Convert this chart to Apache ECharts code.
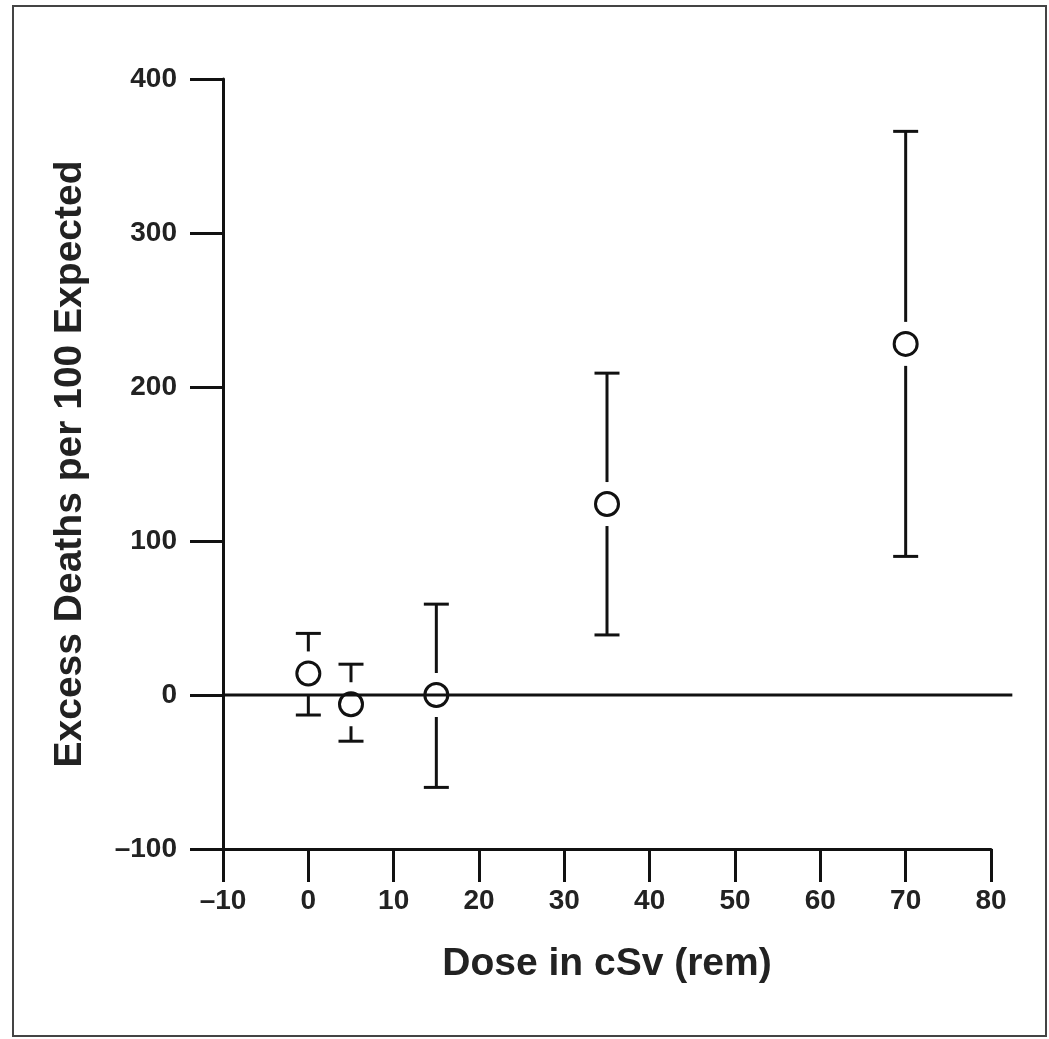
<!DOCTYPE html>
<html>
<head>
<meta charset="utf-8">
<script src="https://cdn.jsdelivr.net/npm/echarts@6/dist/echarts.min.js"></script>
<style>
html,body{margin:0;padding:0;background:#fff;}
#chart{width:1049px;height:1039px;}
</style>
</head>
<body>
<div id="chart"></div>
<script>
// Data
var doses = [0, 5, 15, 35, 70];
var excess = [14, -6, 0, 124, 228];
var lowerCI = [-13, -30, -60, 39, 90];
var upperCI = [40, 20, 59, 209, 366];
var xTickLabels = ['\u201310','0','10','20','30','40','50','60','70','80'];
var yTickLabels = ['\u2013100','0','100','200','300','400'];
var zeroLine = [[-10, 82.5, 0]];

var FONT = '"Liberation Sans", Arial, Helvetica, sans-serif';
var INK = '#111';

var chart = echarts.init(document.getElementById('chart'), null, {renderer: 'canvas'});

var seriesData = doses.map(function (d, i) { return [d, excess[i], lowerCI[i], upperCI[i]]; });

function renderErrorPoint(params, api) {
  var c = api.coord([api.value(0), api.value(1)]);
  var lo = api.coord([api.value(0), api.value(2)]);
  var hi = api.coord([api.value(0), api.value(3)]);
  var gap = 22, cap = 12.5, r = 11.5;
  var st = {stroke: INK, lineWidth: 3, fill: null};
  return {
    type: 'group',
    children: [
      {type: 'line', shape: {x1: c[0], y1: hi[1], x2: c[0], y2: c[1] - gap}, style: st},
      {type: 'line', shape: {x1: c[0] - cap, y1: hi[1], x2: c[0] + cap, y2: hi[1]}, style: st},
      {type: 'line', shape: {x1: c[0], y1: c[1] + gap, x2: c[0], y2: lo[1]}, style: st},
      {type: 'line', shape: {x1: c[0] - cap, y1: lo[1], x2: c[0] + cap, y2: lo[1]}, style: st},
      {type: 'circle', shape: {cx: c[0], cy: c[1], r: r}, style: {stroke: INK, lineWidth: 3, fill: 'none'}}
    ]
  };
}

function renderZeroLine(params, api) {
  var a = api.coord([api.value(0), api.value(2)]);
  var b = api.coord([api.value(1), api.value(2)]);
  return {type: 'line', shape: {x1: a[0], y1: a[1], x2: b[0], y2: b[1]}, style: {stroke: INK, lineWidth: 3}};
}

var option = {
  backgroundColor: '#fff',
  animation: false,
  graphic: [{
    type: 'rect',
    shape: {x: 13, y: 6, width: 1033, height: 1030},
    style: {fill: 'none', stroke: '#444', lineWidth: 2},
    silent: true
  }],
  grid: {left: 223, right: 58, top: 79, bottom: 190, containLabel: false},
  xAxis: {
    type: 'value', min: -10, max: 80, interval: 10,
    name: 'Dose in cSv (rem)', nameLocation: 'middle', nameGap: 96,
    nameTextStyle: {fontFamily: FONT, fontWeight: 'bold', fontSize: 39, color: '#222'},
    axisLine: {show: true, onZero: false, lineStyle: {color: INK, width: 3}},
    axisTick: {show: true, inside: false, length: 33, lineStyle: {color: INK, width: 3}},
    axisLabel: {
      margin: 38, fontFamily: FONT, fontWeight: 'bold', fontSize: 28, color: '#222',
      formatter: function (v) { return xTickLabels[Math.round((v + 10) / 10)]; }
    },
    splitLine: {show: false}
  },
  yAxis: {
    type: 'value', min: -100, max: 400, interval: 100,
    name: 'Excess Deaths per 100 Expected', nameLocation: 'middle', nameGap: 133, nameRotate: 90,
    nameTextStyle: {fontFamily: FONT, fontWeight: 'bold', fontSize: 39, color: '#222'},
    axisLine: {show: true, onZero: false, lineStyle: {color: INK, width: 3}},
    axisTick: {show: true, inside: false, length: 33, lineStyle: {color: INK, width: 3}},
    axisLabel: {
      margin: 46, fontFamily: FONT, fontWeight: 'bold', fontSize: 28, color: '#222',
      formatter: function (v) { return yTickLabels[Math.round((v + 100) / 100)]; }
    },
    splitLine: {show: false}
  },
  series: [
    {
      type: 'custom', data: zeroLine, renderItem: renderZeroLine, clip: false, silent: true, z: 1,
      encode: {x: [0, 1], y: 2}
    },
    {
      type: 'custom', data: seriesData, renderItem: renderErrorPoint, clip: false, z: 3,
      encode: {x: 0, y: [1, 2, 3]}
    }
  ]
};
chart.setOption(option);
</script>
</body>
</html>
